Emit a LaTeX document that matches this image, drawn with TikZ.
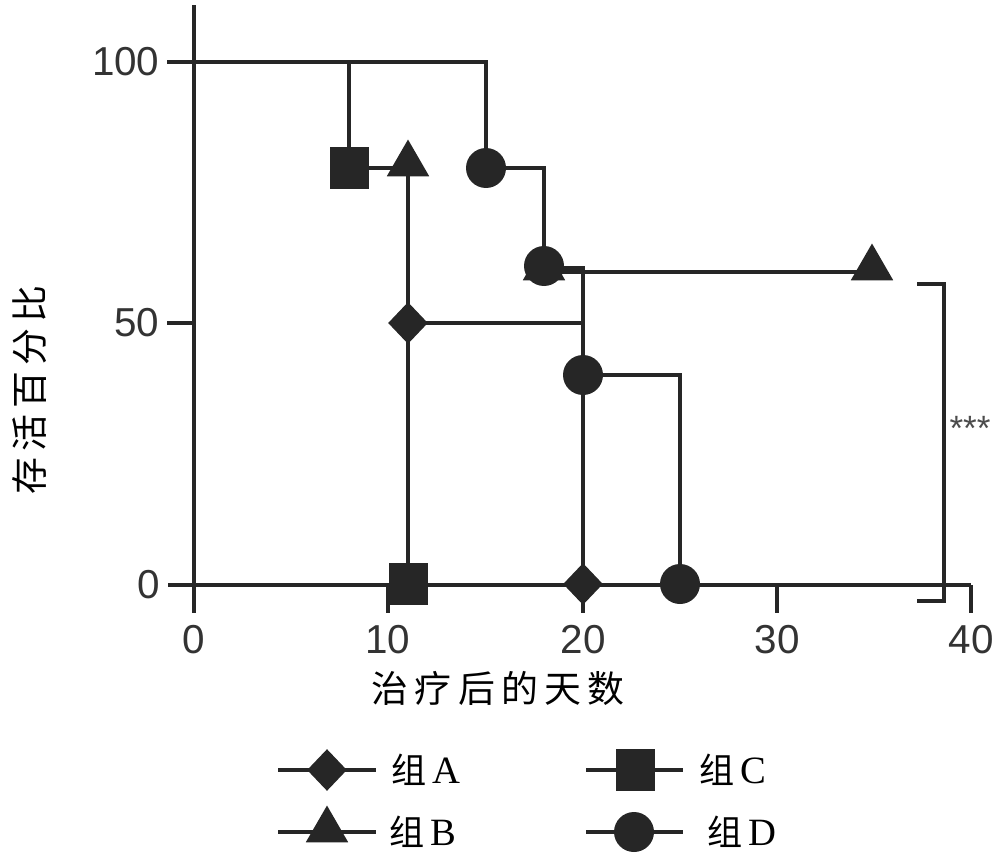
\documentclass[tikz,border=0pt]{standalone}
\usepackage{fontspec}
\setmainfont{Liberation Serif}
\newfontfamily\cjk{Noto Sans CJK SC}
\newfontfamily\num{Liberation Sans}
\usetikzlibrary{shapes.geometric}
\begin{document}
\begin{tikzpicture}[x=0.02cm,y=-0.02cm,line width=1.9pt,
  ln/.style={draw=black!85,line width=1.9pt},
  sq/.style={rectangle,fill=black!85,inner sep=0,minimum width=0.78cm,minimum height=0.84cm},
  ci/.style={circle,fill=black!85,inner sep=0,minimum size=0.8cm},
  di/.style={diamond,fill=black!85,inner sep=0,minimum width=0.82cm,minimum height=0.86cm},
  tr/.style={regular polygon,regular polygon sides=3,fill=black!85,inner sep=0,minimum size=0.98cm},
  tick/.style={font=\num\fontsize{23}{23}\selectfont,text=black!80},
  cn/.style={font=\cjk\fontsize{21}{21}\selectfont},
  lg/.style={font=\cjk\fontsize{20}{20}\selectfont}]
\useasboundingbox (0,0) rectangle (1000,862);
% axes
\coordinate (yt) at (194,5);
\coordinate (yb) at (194,613);
\coordinate (xl) at (168,585);
\coordinate (xr) at (971,585);
\draw[ln] (yt) -- (yb);
\draw[ln] (xl) -- (xr);
\foreach \t/\x in {0/194,10/388,20/583,30/777,40/971}{
  \draw[ln] (\x,585) -- (\x,613);
  \node[tick] (xt\t) at (\x,640) {\t};}
\foreach \p/\y in {100/62,50/323}{
  \draw[ln] (167,\y) -- (194,\y);}
\node[tick,anchor=east] (y100) at (167,62) {100};
\node[tick,anchor=east] (y50) at (167,323) {50};
\node[tick,anchor=east] (y0) at (167,585) {0};
\node[cn] (xlab) at (498,688) {治\,疗\,后\,的\,天\,数};
\node[cn,rotate=90] (ylab) at (30,390) {存\,活\,百\,分\,比};
% curves
\draw[ln] (194,62) -- (486,62) -- (486,168) -- (544,168) -- (544,268) -- (583,268) -- (583,375) -- (680,375) -- (680,585);
\draw[ln] (349,62) -- (349,168) -- (408,168) -- (408,585);
\draw[ln] (544,272) -- (874,272);
\draw[ln] (408,323) -- (583,323) -- (583,585);
% markers
\node[sq] (c1) at (349,168) {};
\node[sq] (c2) at (408,584) {};
\node[tr] (b1) at (408,164) {};
\node[tr] (b2) at (544,268) {};
\node[tr] (b3) at (872,268) {};
\node[ci] (d1) at (486,168) {};
\node[ci] (d2) at (544,266) {};
\node[ci] (d3) at (583,375) {};
\node[ci] (d4) at (680,584) {};
\node[di] (a1) at (408,323) {};
\node[di] (a2) at (583,584) {};
% bracket
\coordinate (bt) at (917,284);
\coordinate (bb) at (917,601);
\draw[ln] (bt) -- (944,284) -- (944,601) -- (bb);
\node[font=\num\fontsize{20}{20}\selectfont,text=black!70] (sig) at (970,428) {***};
% legend
\draw[ln] (278,770) -- (376,770);
\node[di] (la) at (327,770) {};
\node[lg,anchor=west] (ta) at (384,770) {组\,\fontsize{22}{22}\rmfamily A};
\draw[ln] (586,770) -- (683,770);
\node[sq] (lc) at (635,770) {};
\node[lg,anchor=west] (tc) at (692,770) {组\,\fontsize{22}{22}\rmfamily C};
\draw[ln] (278,832) -- (376,832);
\node[tr] (lb) at (327,830) {};
\node[lg,anchor=west] (tb) at (382,832) {组\,\fontsize{22}{22}\rmfamily B};
\draw[ln] (586,832) -- (683,832);
\node[ci] (ld) at (634,832) {};
\node[lg,anchor=west] (td) at (700,832) {组\,\fontsize{22}{22}\rmfamily D};
\end{tikzpicture}
\end{document}
